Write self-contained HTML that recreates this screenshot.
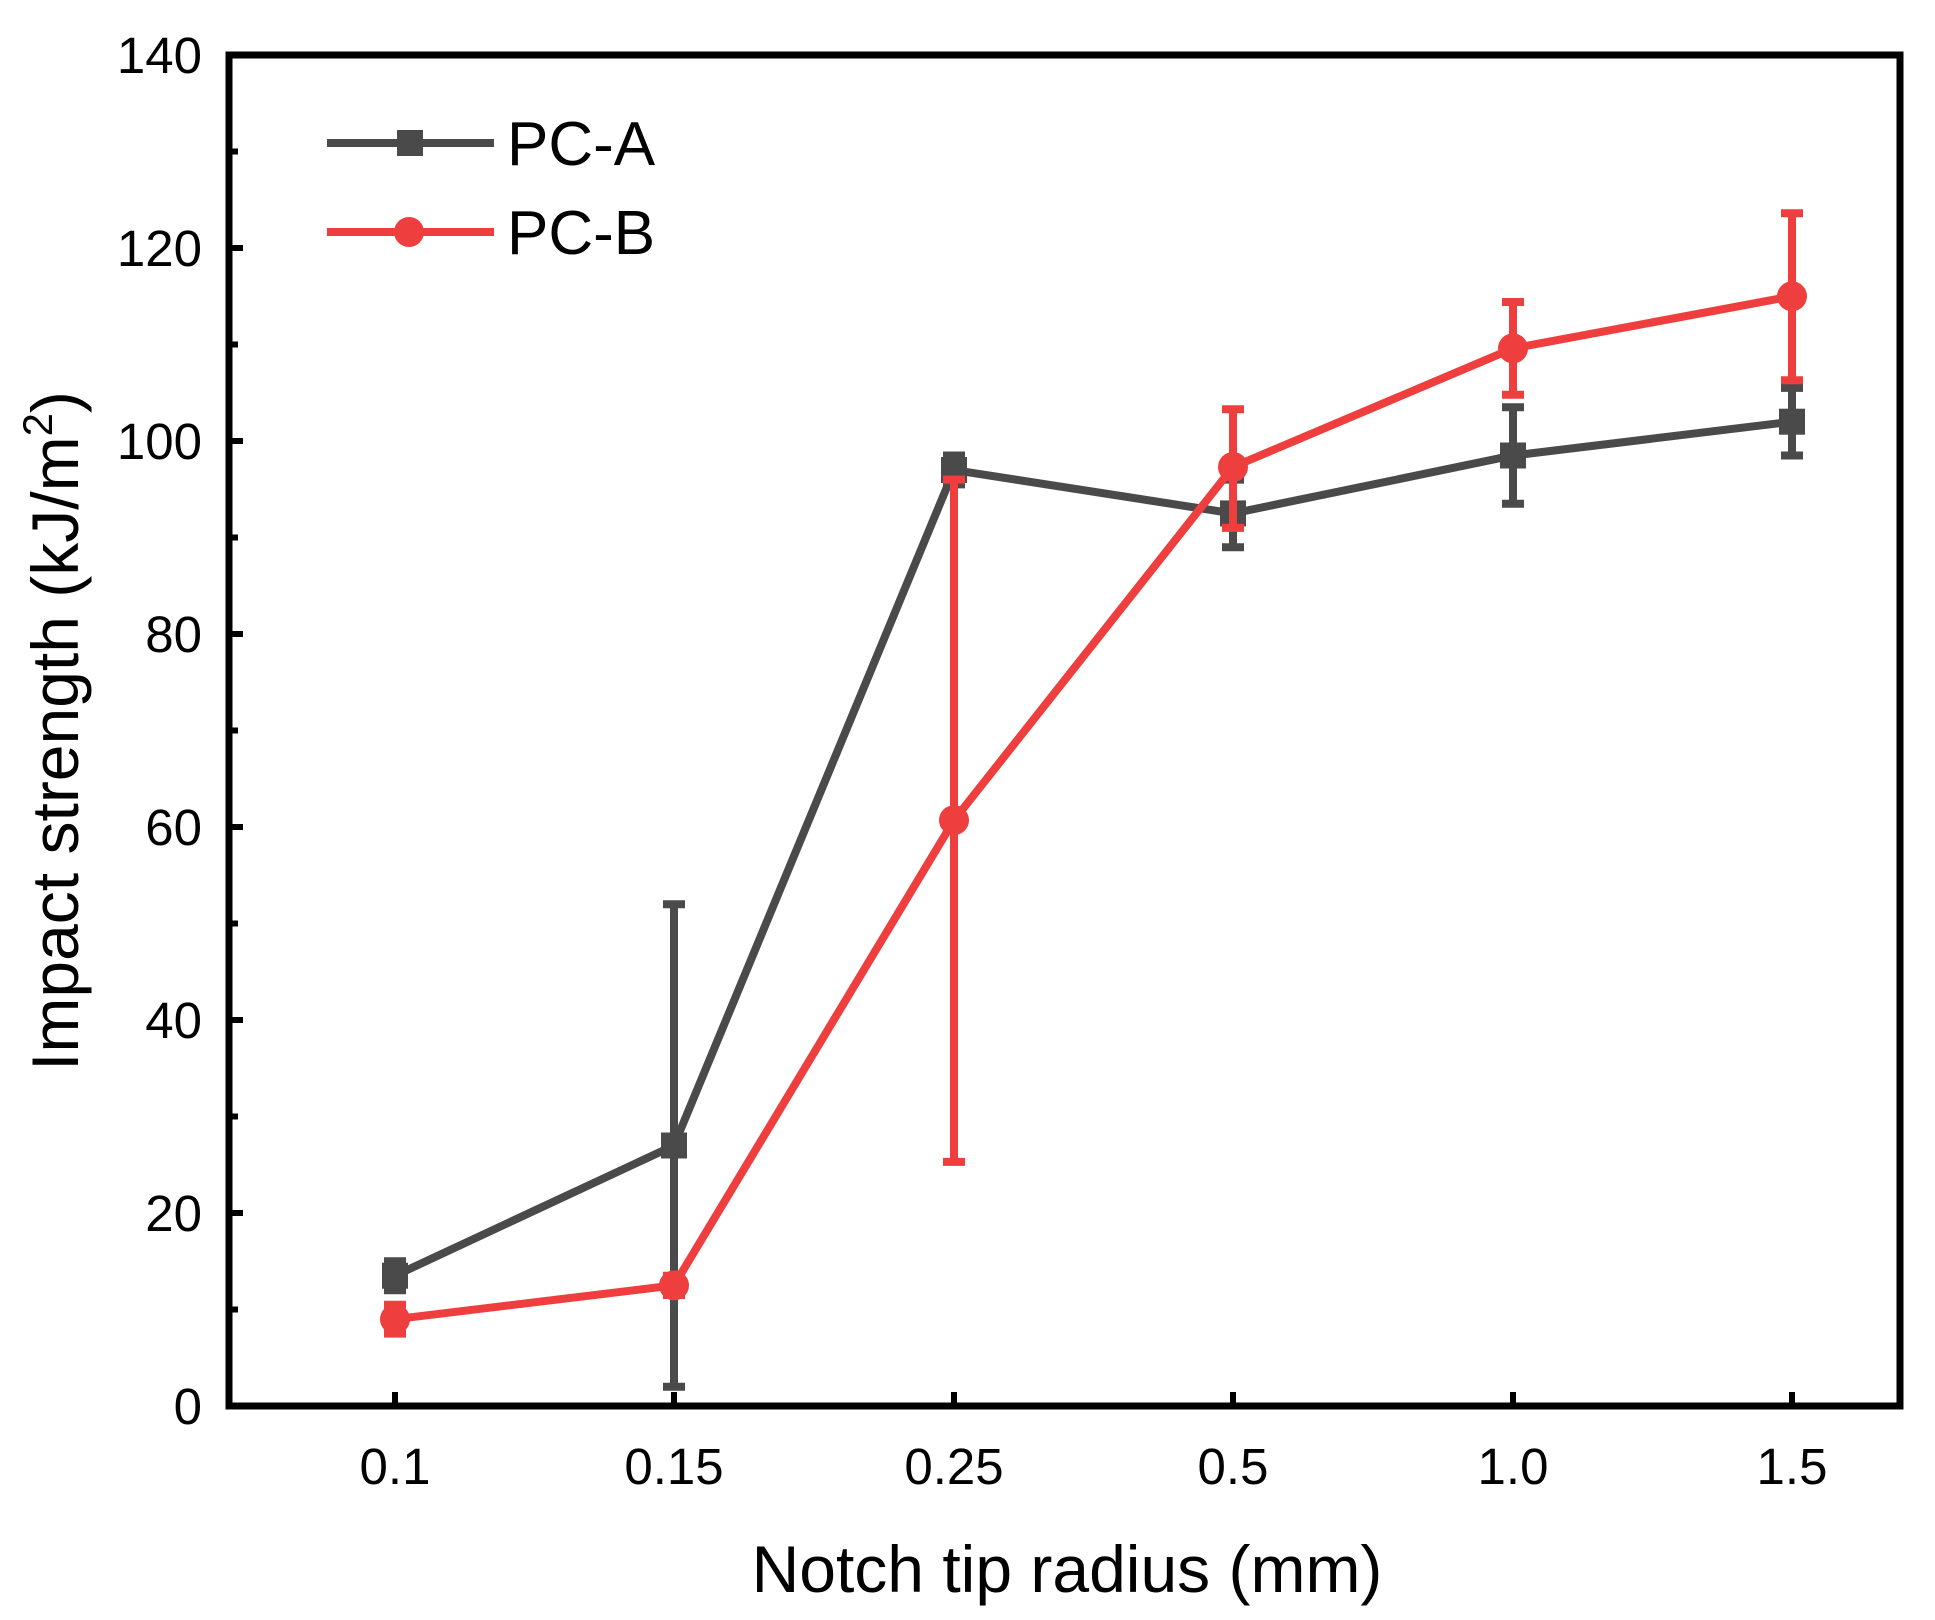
<!DOCTYPE html>
<html><head><style>body{margin:0;background:#fff}svg{display:block}text{font-family:"Liberation Sans",sans-serif}</style></head><body>
<svg width="1935" height="1620" viewBox="0 0 1935 1620">
<rect x="229" y="55" width="1671" height="1351" stroke="#000" stroke-width="7" fill="none"/>
<g stroke="#000" stroke-width="6">
<path d="M229 1406h14M229 1213h14M229 1020h14M229 827h14M229 634h14M229 441h14M229 248h14"/>
<path d="M229 1309.5h9M229 1116.5h9M229 923.5h9M229 730.5h9M229 537.5h9M229 344.5h9M229 151.5h9"/>
<path d="M395 1406v-14M674 1406v-14M954 1406v-14M1233 1406v-14M1513 1406v-14M1792 1406v-14"/>
</g>
<g font-size="51" text-anchor="end" fill="#000">
<text x="202" y="1424">0</text><text x="202" y="1231">20</text><text x="202" y="1038">40</text><text x="202" y="845">60</text><text x="202" y="652">80</text><text x="202" y="459">100</text><text x="202" y="266">120</text><text x="202" y="73">140</text>
</g>
<g font-size="51" text-anchor="middle">
<text x="395" y="1484">0.1</text><text x="674" y="1484">0.15</text><text x="954" y="1484">0.25</text><text x="1233" y="1484">0.5</text><text x="1513" y="1484">1.0</text><text x="1792" y="1484">1.5</text>
</g>
<text x="1067" y="1592" font-size="66" text-anchor="middle">Notch tip radius (mm)</text>
<text transform="translate(78,731) rotate(-90)" font-size="66" text-anchor="middle">Impact strength (kJ/m<tspan font-size="42" dy="-26">2</tspan><tspan dy="26">)</tspan></text>
<g stroke="#4a4a4a" stroke-width="8" fill="none">
<path d="M395 1261.3V1290.2M384 1261.3h22M384 1290.2h22"/>
<path d="M674 904.2V1386.7M663 904.2h22M663 1386.7h22"/>
<path d="M954 455.5V484.4M943 455.5h22M943 484.4h22"/>
<path d="M1233 479.6V547.2M1222 479.6h22M1222 547.2h22"/>
<path d="M1513 407.2V503.7M1502 407.2h22M1502 503.7h22"/>
<path d="M1792 387.9V455.5M1781 387.9h22M1781 455.5h22"/>
<polyline points="395,1275.7 674,1145.5 954,470 1233,513.4 1513,455.5 1792,421.7"/>
</g>
<g fill="#4a4a4a">
<rect x="382" y="1262.7" width="26" height="26"/><rect x="661" y="1132.5" width="26" height="26"/><rect x="941" y="457" width="26" height="26"/><rect x="1220" y="500.4" width="26" height="26"/><rect x="1500" y="442.5" width="26" height="26"/><rect x="1779" y="408.7" width="26" height="26"/>
</g>
<g stroke="#ef3e3e" stroke-width="8" fill="none">
<path d="M395 1304.7V1333.6M384 1304.7h22M384 1333.6h22"/>
<path d="M674 1275.7V1295M663 1275.7h22M663 1295h22"/>
<path d="M954 479.6V1161.9M943 479.6h22M943 1161.9h22"/>
<path d="M1233 409.2V527.9M1222 409.2h22M1222 527.9h22"/>
<path d="M1513 302V394.7M1502 302h22M1502 394.7h22"/>
<path d="M1792 213.3V380.2M1781 213.3h22M1781 380.2h22"/>
<polyline points="395,1319.2 674,1285.4 954,820.2 1233,467 1513,348.4 1792,296.3"/>
</g>
<g fill="#ef3e3e">
<circle cx="395" cy="1319.2" r="15"/><circle cx="674" cy="1285.4" r="15"/><circle cx="954" cy="820.2" r="15"/><circle cx="1233" cy="467" r="15"/><circle cx="1513" cy="348.4" r="15"/><circle cx="1792" cy="296.3" r="15"/>
</g>
<line x1="327" y1="143" x2="494" y2="143" stroke="#4a4a4a" stroke-width="8"/>
<rect x="397" y="130" width="26" height="26" fill="#4a4a4a"/>
<line x1="327" y1="232" x2="494" y2="232" stroke="#ef3e3e" stroke-width="8"/>
<circle cx="409" cy="232" r="15" fill="#ef3e3e"/>
<text x="507" y="165" font-size="62">PC-A</text>
<text x="507" y="254" font-size="62">PC-B</text>
</svg>
</body></html>
